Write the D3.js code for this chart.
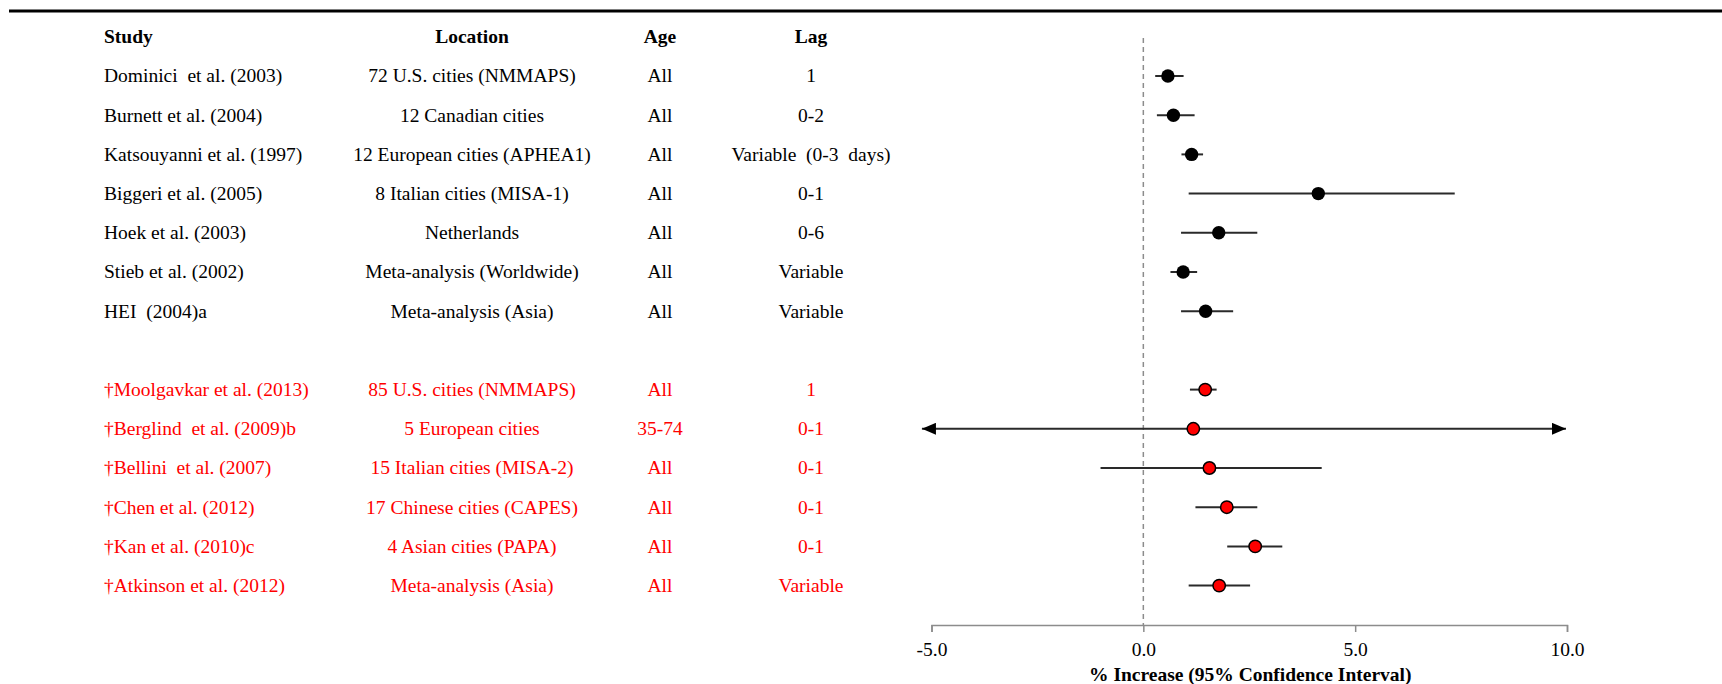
<!DOCTYPE html>
<html>
<head>
<meta charset="utf-8">
<script src="https://cdn.jsdelivr.net/npm/d3@7"></script>
<style>
  html, body { margin: 0; padding: 0; background: #fff; }
  svg { display: block; }
  text { font-family: "Liberation Serif", "Times New Roman", serif; font-size: 19.5px; }
</style>
</head>
<body>
<svg id="chart" width="1722" height="684"></svg>
<script>
// Single-pollutant PM10 short-term mortality studies (black) and newer studies marked with a dagger (red)
const studies = [
  "Dominici  et al. (2003)", "Burnett et al. (2004)", "Katsouyanni et al. (1997)",
  "Biggeri et al. (2005)", "Hoek et al. (2003)", "Stieb et al. (2002)", "HEI  (2004)a",
  "\u2020Moolgavkar et al. (2013)", "\u2020Berglind  et al. (2009)b", "\u2020Bellini  et al. (2007)",
  "\u2020Chen et al. (2012)", "\u2020Kan et al. (2010)c", "\u2020Atkinson et al. (2012)"
];
const locations = [
  "72 U.S. cities (NMMAPS)", "12 Canadian cities", "12 European cities (APHEA1)",
  "8 Italian cities (MISA-1)", "Netherlands", "Meta-analysis (Worldwide)", "Meta-analysis (Asia)",
  "85 U.S. cities (NMMAPS)", "5 European cities", "15 Italian cities (MISA-2)",
  "17 Chinese cities (CAPES)", "4 Asian cities (PAPA)", "Meta-analysis (Asia)"
];
const ages = ["All", "All", "All", "All", "All", "All", "All", "All", "35-74", "All", "All", "All", "All"];
const lags = [
  "1", "0-2", "Variable  (0-3  days)", "0-1", "0-6", "Variable", "Variable",
  "1", "0-1", "0-1", "0-1", "0-1", "Variable"
];
// Percent increase with 95% confidence interval
const estimates = [0.58, 0.71, 1.14, 4.13, 1.78, 0.94, 1.47, 1.46, 1.18, 1.56, 1.97, 2.64, 1.79];
const lower     = [0.28, 0.32, 0.90, 1.07, 0.89, 0.64, 0.89, 1.10, -5.25, -1.01, 1.23, 1.98, 1.07];
const upper     = [0.95, 1.21, 1.41, 7.35, 2.69, 1.27, 2.12, 1.73, 10.0, 4.21, 2.69, 3.28, 2.52];
// Interval runs past the plotted range (drawn with arrow heads)
const truncated = [false, false, false, false, false, false, false, false, true, false, false, false, false];
// 0 = earlier studies, 1 = newer studies
const groups    = [0, 0, 0, 0, 0, 0, 0, 1, 1, 1, 1, 1, 1];
const headers = ["Study", "Location", "Age", "Lag"];
const tickValues = [-5, 0, 5, 10];
const axisTitle = "% Increase (95% Confidence Interval)";

const groupColor = ["#000000", "#ff0000"];

const svg = d3.select("#chart");

// Top rule
svg.append("line")
  .attr("x1", 9).attr("x2", 1722).attr("y1", 11).attr("y2", 11)
  .attr("stroke", "#000").attr("stroke-width", 3);

// Row positions: a header row, the first group, a spacer row, the second group
const rowKeys = ["header"];
studies.forEach((s, i) => {
  if (i > 0 && groups[i] !== groups[i - 1]) rowKeys.push("spacer");
  rowKeys.push("row" + i);
});
const y = d3.scalePoint().domain(rowKeys).range([36.8, 585.6]);

const x = d3.scaleLinear().domain([-5, 10]).range([931.5, 1567]);

// Table columns: x anchor and text alignment
const columns = [
  { key: "study", x: 104, anchor: "start", values: studies },
  { key: "location", x: 472, anchor: "middle", values: locations },
  { key: "age", x: 660, anchor: "middle", values: ages },
  { key: "lag", x: 811, anchor: "middle", values: lags }
];

const table = svg.append("g").attr("class", "table");
columns.forEach((col, ci) => {
  table.append("text")
    .attr("x", col.x).attr("y", y("header"))
    .attr("dy", "0.33em")
    .attr("text-anchor", col.anchor)
    .attr("font-weight", "bold")
    .text(headers[ci]);
  table.selectAll("text." + col.key)
    .data(col.values)
    .join("text")
    .attr("class", col.key)
    .attr("x", col.x)
    .attr("y", (d, i) => y("row" + i))
    .attr("dy", "0.33em")
    .attr("text-anchor", col.anchor)
    .attr("fill", (d, i) => groupColor[groups[i]])
    .style("white-space", "pre")
    .text(d => d);
});

// Reference line at zero
svg.append("line")
  .attr("x1", x(0)).attr("x2", x(0))
  .attr("y1", 38).attr("y2", 625)
  .attr("stroke", "#8c8c8c").attr("stroke-width", 1.5)
  .attr("stroke-dasharray", "5,4");

// Arrow heads for truncated intervals
const defs = svg.append("defs");
defs.append("marker")
  .attr("id", "arrow-end")
  .attr("viewBox", "0 0 14 12")
  .attr("refX", 14).attr("refY", 6)
  .attr("markerUnits", "userSpaceOnUse")
  .attr("markerWidth", 14).attr("markerHeight", 12)
  .attr("orient", "auto")
  .append("path").attr("d", "M0,0L14,6L0,12Z").attr("fill", "#000");
defs.append("marker")
  .attr("id", "arrow-start")
  .attr("viewBox", "0 0 14 12")
  .attr("refX", 0).attr("refY", 6)
  .attr("markerUnits", "userSpaceOnUse")
  .attr("markerWidth", 14).attr("markerHeight", 12)
  .attr("orient", "auto")
  .append("path").attr("d", "M14,0L0,6L14,12Z").attr("fill", "#000");

const idx = d3.range(studies.length);
const plot = svg.append("g").attr("class", "intervals");

plot.selectAll("line.ci")
  .data(idx)
  .join("line")
  .attr("class", "ci")
  .attr("x1", i => x(lower[i]) + (truncated[i] ? 1 : 0))
  .attr("x2", i => x(upper[i]) - (truncated[i] ? 1 : 0))
  .attr("y1", i => y("row" + i))
  .attr("y2", i => y("row" + i))
  .attr("stroke", "#2a2a2a")
  .attr("stroke-width", 2)
  .attr("marker-start", i => truncated[i] ? "url(#arrow-start)" : null)
  .attr("marker-end", i => truncated[i] ? "url(#arrow-end)" : null);

plot.selectAll("circle.est")
  .data(idx)
  .join("circle")
  .attr("class", "est")
  .attr("cx", i => x(estimates[i]))
  .attr("cy", i => y("row" + i))
  .attr("r", i => groups[i] === 0 ? 6.7 : 6.2)
  .attr("fill", i => groupColor[groups[i]])
  .attr("stroke", "#000")
  .attr("stroke-width", i => groups[i] === 0 ? 0 : 1.5);

// Bottom axis
const axis = d3.axisBottom(x)
  .tickValues(tickValues)
  .tickFormat(d => d.toFixed(1))
  .tickSize(7)
  .tickSizeOuter(7)
  .tickPadding(10);

const axisG = svg.append("g")
  .attr("transform", "translate(0,625)")
  .call(axis);
axisG.select(".domain").attr("stroke", "#8c8c8c").attr("stroke-width", 1.5);
axisG.selectAll(".tick line").attr("stroke", "#8c8c8c").attr("stroke-width", 1.5);
axisG.selectAll(".tick text")
  .attr("fill", "#000")
  .style("font-family", "\"Liberation Serif\", \"Times New Roman\", serif")
  .style("font-size", "19.5px");

svg.append("text")
  .attr("x", (x(-5) + x(10)) / 2 + 1)
  .attr("y", 675)
  .attr("dy", "0.33em")
  .attr("text-anchor", "middle")
  .attr("font-weight", "bold")
  .style("white-space", "pre")
  .text(axisTitle);
</script>
</body>
</html>
